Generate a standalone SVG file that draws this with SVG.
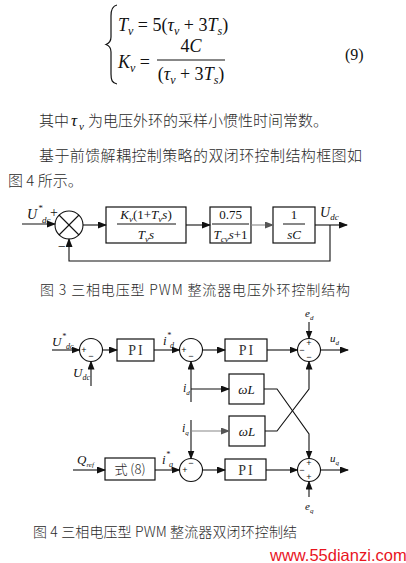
<svg xmlns="http://www.w3.org/2000/svg" width="406" height="563" viewBox="0 0 406 563">
<defs>
<style>
.m{font-family:"Liberation Serif","Times New Roman",serif;fill:#111}
.i{font-style:italic}
.cjk{font-family:"Noto Sans CJK SC","Liberation Sans",sans-serif;fill:#2a2a2a;font-weight:300}
.box{fill:#fff;stroke:#111;stroke-width:1.2}
.sum{fill:#fff;stroke:#111;stroke-width:1.1}
.ln{fill:none;stroke:#111;stroke-width:1.1}
.gr{stroke:#888}
.sg{font-family:"Liberation Sans",Arial,sans-serif;font-size:9px;fill:#111;text-anchor:middle}
.pi{font-family:"Liberation Serif",serif;font-size:14px;fill:#333;text-anchor:middle;letter-spacing:2px}
</style>
<marker id="ar" markerWidth="9" markerHeight="7" refX="8" refY="3.5" orient="auto" markerUnits="userSpaceOnUse">
<path d="M0,0 L9,3.5 L0,7 Z" fill="#111"/>
</marker>
<marker id="arg" markerWidth="9" markerHeight="7" refX="8" refY="3.5" orient="auto" markerUnits="userSpaceOnUse">
<path d="M0,0 L9,3.5 L0,7 Z" fill="#555"/>
</marker>
</defs>
<rect width="406" height="563" fill="#fff"/>

<!-- Equation (9) -->
<g id="equation">
<path d="M117,5 C112,6 111,10 111,16 L111,37 C111,41 110,43 106,44.5 C110,46 111,48 111,52 L111,74 C111,80 112,83 117,84" fill="none" stroke="#111" stroke-width="1.2"/>
<text class="m" font-size="18" x="118" y="31"><tspan class="i">T</tspan><tspan class="i" font-size="12" dy="4">v</tspan><tspan dy="-4"> = 5(</tspan><tspan class="i">τ</tspan><tspan class="i" font-size="12" dy="4">v</tspan><tspan dy="-4"> + 3</tspan><tspan class="i">T</tspan><tspan class="i" font-size="12" dy="4">s</tspan><tspan dy="-4">)</tspan></text>
<text class="m" font-size="18" x="118" y="68"><tspan class="i">K</tspan><tspan class="i" font-size="12" dy="4">v</tspan><tspan dy="-4"> =</tspan></text>
<text class="m" font-size="18" x="191" y="52" text-anchor="middle">4<tspan class="i">C</tspan></text>
<line x1="157" y1="60" x2="225" y2="60" stroke="#111" stroke-width="1"/>
<text class="m" font-size="18" x="191" y="80" text-anchor="middle">(<tspan class="i">τ</tspan><tspan class="i" font-size="12" dy="4">v</tspan><tspan dy="-4"> + 3</tspan><tspan class="i">T</tspan><tspan class="i" font-size="12" dy="4">s</tspan><tspan dy="-4">)</tspan></text>
<text class="m" font-size="16" x="345" y="60">(9)</text>
</g>

<!-- Paragraph text -->
<g id="paragraph">
<text class="cjk" font-size="15" x="39" y="126">其中</text>
<text class="m i" font-size="17" x="71" y="126">τ</text>
<text class="m i" font-size="11" x="79" y="130">v</text>
<text class="cjk" font-size="15" x="88" y="126">为电压外环的采样小惯性时间常数。</text>
<text class="cjk" font-size="15" x="39" y="161" textLength="323" lengthAdjust="spacing">基于前馈解耦控制策略的双闭环控制结构框图如</text>
<text class="cjk" font-size="15" x="8" y="186">图 4 所示。</text>
</g>

<!-- Figure 3 -->
<g id="fig3-sum">
<circle class="sum" cx="69" cy="225" r="14"/>
<line class="ln" x1="59" y1="215" x2="79" y2="235"/>
<line class="ln" x1="79" y1="215" x2="59" y2="235"/>
<text class="m" font-size="14" x="50" y="217">+</text>
<text class="m" font-size="14" x="58" y="251">−</text>
</g>
<g id="fig3-Gv">
<rect class="box" x="106" y="207" width="80" height="36"/>
<text class="m" font-size="13" x="146" y="219" text-anchor="middle"><tspan class="i">K</tspan><tspan class="i" font-size="9" dy="3">v</tspan><tspan dy="-3">(1+</tspan><tspan class="i">T</tspan><tspan class="i" font-size="9" dy="3">v</tspan><tspan class="i" dy="-3">s</tspan>)</text>
<line x1="117" y1="224" x2="176" y2="224" stroke="#111" stroke-width="1"/>
<text class="m" font-size="13" x="146" y="239" text-anchor="middle"><tspan class="i">T</tspan><tspan class="i" font-size="9" dy="3">v</tspan><tspan class="i" dy="-3">s</tspan></text>
</g>
<g id="fig3-Gi">
<rect class="box" x="210" y="207" width="41" height="36"/>
<text class="m" font-size="13" x="230.5" y="219" text-anchor="middle">0.75</text>
<line x1="212" y1="224" x2="249" y2="224" stroke="#111" stroke-width="1"/>
<text class="m" font-size="13" x="230.5" y="239" text-anchor="middle"><tspan class="i">T</tspan><tspan class="i" font-size="9" dy="3">cv</tspan><tspan class="i" dy="-3">s</tspan>+1</text>
</g>
<g id="fig3-C">
<rect class="box" x="273" y="207" width="42" height="36"/>
<text class="m" font-size="13" x="294" y="219" text-anchor="middle">1</text>
<line x1="283" y1="224" x2="305" y2="224" stroke="#111" stroke-width="1"/>
<text class="m i" font-size="13" x="294" y="239" text-anchor="middle">sC</text>
</g>
<g id="fig3-labels" class="m i">
<text font-size="14" x="27" y="219">U</text>
<text font-size="9" x="38" y="211">*</text>
<text font-size="9" x="42" y="223">dc</text>
<text font-size="14" x="320" y="217">U<tspan font-size="9" dy="3">dc</tspan></text>
</g>
<g id="fig3-connectors">
<line class="ln" x1="22" y1="224" x2="55" y2="224" marker-end="url(#ar)"/>
<line class="ln" x1="83" y1="225" x2="106" y2="225" marker-end="url(#ar)"/>
<line class="ln" x1="186" y1="225" x2="210" y2="225" marker-end="url(#ar)"/>
<line class="ln gr" x1="251" y1="225" x2="273" y2="225" stroke-width="1.5" marker-end="url(#arg)"/>
<line class="ln" x1="315" y1="225" x2="347" y2="225" marker-end="url(#ar)"/>
<polyline class="ln" points="330,225 330,261 69,261 69,239" marker-end="url(#ar)"/>
</g>
<text id="fig3-caption" class="cjk" font-size="14" x="40" y="295" textLength="310" lengthAdjust="spacing">图 3 三相电压型 PWM 整流器电压外环控制结构</text>

<!-- Figure 4 -->
<g id="sum1"><circle class="sum" cx="91" cy="350" r="11.5"/><text class="sg" x="84" y="353">+</text><text class="sg" x="91" y="359">−</text></g>
<g id="sum2"><circle class="sum" cx="191" cy="350" r="11.5"/><text class="sg" x="184" y="353">+</text><text class="sg" x="191" y="359">−</text></g>
<g id="sum3"><circle class="sum" cx="309" cy="350" r="11.5"/><text class="sg" x="309" y="346">+</text><text class="sg" x="302" y="353">−</text><text class="sg" x="309" y="360">−</text></g>
<g id="sum4"><circle class="sum" cx="309" cy="470" r="11.5"/><text class="sg" x="309" y="466">+</text><text class="sg" x="302" y="473">−</text><text class="sg" x="309" y="480">+</text></g>
<g id="sum5"><circle class="sum" cx="191" cy="470" r="11.5"/><text class="sg" x="191" y="466">−</text><text class="sg" x="185" y="473">+</text></g>
<g id="pi1"><rect class="box" x="117" y="339" width="37" height="22"/><text class="pi" x="136.5" y="355">PI</text></g>
<g id="pi2"><rect class="box" x="225" y="339" width="42" height="22"/><text class="pi" x="247" y="355">PI</text></g>
<g id="pi3"><rect class="box" x="225" y="459" width="41" height="21"/><text class="pi" x="246.5" y="475">PI</text></g>
<g id="wL1"><rect class="box" x="229" y="374" width="35" height="30"/><text class="m i" font-size="13" x="246.5" y="394" text-anchor="middle">ωL</text></g>
<g id="wL2"><rect class="box" x="229" y="416" width="36" height="30"/><text class="m i" font-size="13" x="247" y="436" text-anchor="middle">ωL</text></g>
<g id="eq8"><rect class="box" x="105" y="458" width="50" height="22"/><text class="cjk" font-size="13" x="130" y="474" text-anchor="middle" fill="#333">式 (8)</text></g>

<g id="fig4-labels" class="m i">
<text font-size="13" x="52" y="346">U</text>
<text font-size="8" x="62" y="339">*</text>
<text font-size="8" x="66" y="349">dc</text>
<text font-size="13" x="73" y="377">U<tspan font-size="8" dy="3">dc</tspan></text>
<text font-size="13" x="163" y="345">i</text>
<text font-size="8" x="167" y="338">*</text>
<text font-size="8" x="170" y="348">d</text>
<text font-size="11" x="305" y="317">e<tspan font-size="7" dy="3">d</tspan></text>
<text font-size="11" x="330" y="342">u<tspan font-size="7" dy="3">d</tspan></text>
<text font-size="12" x="183" y="392">i<tspan font-size="7" dy="3">d</tspan></text>
<text font-size="12" x="182" y="432">i<tspan font-size="7" dy="3">q</tspan></text>
<text font-size="13" x="77" y="464">Q<tspan font-size="7" dy="3">ref</tspan></text>
<text font-size="13" x="162" y="464">i</text>
<text font-size="8" x="166" y="457">*</text>
<text font-size="8" x="169" y="467">q</text>
<text font-size="11" x="330" y="462">u<tspan font-size="7" dy="3">q</tspan></text>
<text font-size="11" x="305" y="510">e<tspan font-size="7" dy="3">q</tspan></text>
</g>

<g id="fig4-connectors">
<line class="ln" x1="52" y1="350" x2="79.5" y2="350" marker-end="url(#ar)"/>
<line class="ln" x1="91" y1="386" x2="91" y2="361.5" marker-end="url(#ar)"/>
<line class="ln" x1="102.5" y1="350" x2="117" y2="350" marker-end="url(#ar)"/>
<line class="ln" x1="154" y1="350" x2="179.5" y2="350" marker-end="url(#ar)"/>
<line class="ln" x1="202.5" y1="350" x2="225" y2="350" marker-end="url(#ar)"/>
<line class="ln" x1="267" y1="350" x2="297.5" y2="350" marker-end="url(#ar)"/>
<line class="ln" x1="309" y1="322" x2="309" y2="338.5" marker-end="url(#ar)"/>
<line class="ln" x1="320.5" y1="350" x2="348" y2="350" marker-end="url(#ar)"/>
<line class="ln" x1="191" y1="402" x2="191" y2="361.5" marker-end="url(#ar)"/>
<line class="ln" x1="191" y1="389" x2="229" y2="389" marker-end="url(#ar)"/>
<polyline class="ln" points="264,389 277,389 309,434 309,458.5" marker-end="url(#ar)"/>
<polyline class="ln" points="265,431 277,431 309,389 309,361.5" marker-end="url(#ar)"/>
<line class="ln" x1="191" y1="420" x2="191" y2="458.5" marker-end="url(#ar)"/>
<line class="ln gr" x1="191" y1="431" x2="229" y2="431" stroke-width="1.4" marker-end="url(#arg)"/>
<line class="ln" x1="73" y1="470" x2="105" y2="470" marker-end="url(#ar)"/>
<line class="ln" x1="155" y1="470" x2="179.5" y2="470" marker-end="url(#ar)"/>
<line class="ln" x1="202.5" y1="470" x2="225" y2="470" marker-end="url(#ar)"/>
<line class="ln" x1="266" y1="470" x2="297.5" y2="470" marker-end="url(#ar)"/>
<line class="ln" x1="320.5" y1="470" x2="348" y2="470" marker-end="url(#ar)"/>
<line class="ln" x1="309" y1="497" x2="309" y2="481.5" marker-end="url(#ar)"/>
</g>
<text id="fig4-caption" class="cjk" font-size="14" x="33" y="537" textLength="264" lengthAdjust="spacing">图 4 三相电压型 PWM 整流器双闭环控制结</text>
<text id="watermark" x="270" y="561" font-family="Liberation Sans,Arial,sans-serif" font-size="16.5" fill="#e8141e">www.55dianzi.com</text>
</svg>
